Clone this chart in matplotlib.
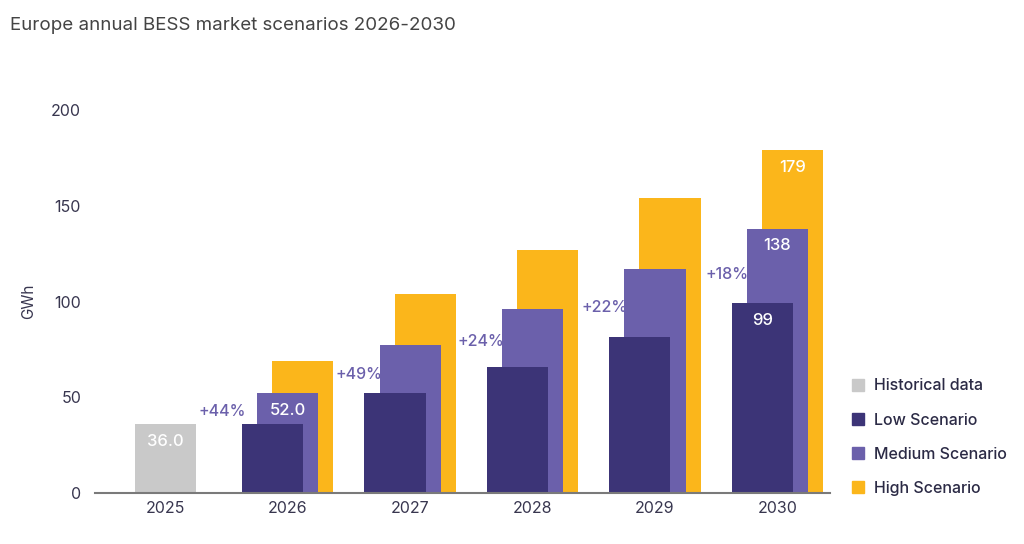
import matplotlib
matplotlib.use("Agg")
import matplotlib.pyplot as plt
from matplotlib.patches import Patch

plt.rcParams['font.family'] = ['Inter', 'DejaVu Sans']

years = ["2025", "2026", "2027", "2028", "2029", "2030"]
historical = [36.0, None, None, None, None, None]
low = [None, 36, 52, 66, 81.5, 99]
medium = [None, 52.0, 77.5, 96, 117, 138]
high = [None, 69, 104, 127, 154, 179]
growth_labels = ["+44%", "+49%", "+24%", "+22%", "+18%"]
value_labels = {("historical", 0): "36.0", ("medium", 1): "52.0",
                ("low", 5): "99", ("medium", 5): "138", ("high", 5): "179"}

# layout constants
growth_x = [0.467, 1.58, 2.58, 3.59, 4.59]
growth_y = [42.5, 62, 79, 97, 114]

c_hist = "#c9c9c9"
c_low = "#3c3477"
c_med = "#6b60ab"
c_high = "#fbb61b"

fig = plt.figure(figsize=(10.24, 5.44), dpi=100)
ax = fig.add_axes([95/1024, 1-493/544, (830-95)/1024, (493-110)/544])

w = 0.5
off = 0.123
idx = list(range(len(years)))

def draw(vals, dx, color, key):
    for i, v in enumerate(vals):
        if v is None:
            continue
        ax.bar(i + dx, v, width=w, color=color, zorder=2)
        if (key, i) in value_labels:
            ax.text(i + dx, v - 9, value_labels[(key, i)], ha='center', va='center',
                    color='white', fontsize=12, fontweight='medium', zorder=5)

draw(historical, 0, c_hist, "historical")
draw(high, off, c_high, "high")
draw(medium, 0, c_med, "medium")
draw(low, -off, c_low, "low")

for x, y, t in zip(growth_x, growth_y, growth_labels):
    ax.text(x, y, t, ha='center', va='center', color=c_med, fontsize=11.5,
            fontweight='medium', zorder=5)

ax.set_xlim(-0.574, 5.43)
ax.set_ylim(0, 200)
ax.set_xticks(idx)
ax.set_xticklabels(years)
ax.set_yticks([0, 50, 100, 150, 200])
ax.tick_params(axis='both', length=0, labelsize=11.5, colors="#38364f")
ax.tick_params(axis='y', pad=10)
ax.tick_params(axis='x', pad=6)
for s in ['top', 'right', 'left']:
    ax.spines[s].set_visible(False)
ax.spines['bottom'].set_color('#7a7a7a')
ax.spines['bottom'].set_linewidth(1.5)
ax.set_ylabel("GWh", fontsize=11, color="#38364f")
ax.yaxis.set_label_coords(-(95-36)/735, 0.5)

fig.text(10/1024, 1-25/544, "Europe annual BESS market scenarios 2026-2030",
         fontsize=13.5, color="#444444", ha='left', va='center')

handles = [Patch(color=c_hist), Patch(color=c_low), Patch(color=c_med), Patch(color=c_high)]
labels = ["Historical data", "Low Scenario", "Medium Scenario", "High Scenario"]
leg = fig.legend(handles, labels, loc='upper left', bbox_to_anchor=(838/1024, 1-364/544),
                 frameon=False, handlelength=0.75, handleheight=0.75, handletextpad=0.6,
                 labelspacing=1.2, prop={'size': 11.5, 'weight': 'medium'})
for t in leg.get_texts():
    t.set_color("#2b2a45")

fig.savefig("out.png", dpi=100)
